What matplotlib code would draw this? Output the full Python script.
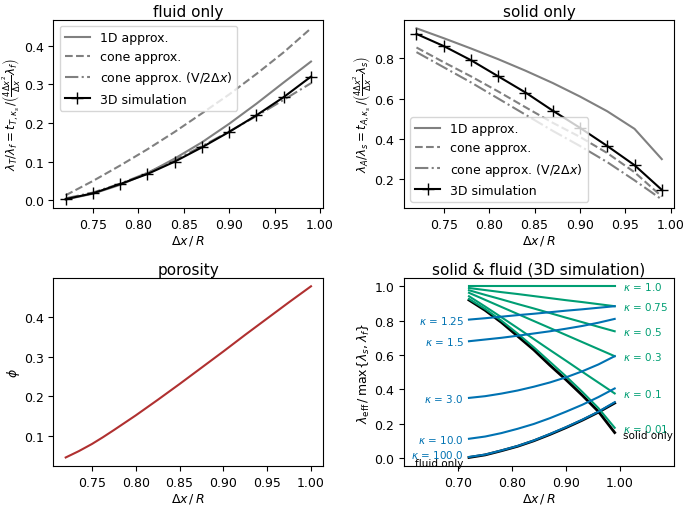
import matplotlib
matplotlib.use("Agg")
import matplotlib.pyplot as plt

# grid spacing ratios (markers of the 3D simulation)
dx = [0.72, 0.75, 0.78, 0.81, 0.84, 0.87, 0.90, 0.93, 0.96, 0.99]

# fluid only
fluid_1d = [0.002, 0.017, 0.040, 0.070, 0.108, 0.150, 0.198, 0.250, 0.305, 0.359]
fluid_cone = [0.013, 0.050, 0.090, 0.132, 0.177, 0.225, 0.274, 0.327, 0.383, 0.445]
fluid_cone_v = [0.005, 0.020, 0.043, 0.071, 0.104, 0.140, 0.178, 0.218, 0.260, 0.303]
fluid_3d = [0.003, 0.018, 0.042, 0.068, 0.100, 0.137, 0.177, 0.220, 0.267, 0.320]

# solid only
solid_1d = [0.948, 0.899, 0.848, 0.795, 0.738, 0.677, 0.610, 0.537, 0.450, 0.300]
solid_cone = [0.853, 0.780, 0.710, 0.635, 0.557, 0.480, 0.410, 0.330, 0.235, 0.115]
solid_cone_v = [0.830, 0.755, 0.680, 0.600, 0.520, 0.440, 0.365, 0.285, 0.195, 0.100]
solid_3d = [0.920, 0.860, 0.790, 0.710, 0.630, 0.540, 0.455, 0.365, 0.270, 0.148]

# porosity
por_x = [0.72, 0.735, 0.75, 0.7625, 0.775, 0.80, 0.825, 0.85, 0.875, 0.90,
         0.925, 0.95, 0.975, 1.00]
por_phi = [0.046, 0.062, 0.080, 0.097, 0.115, 0.152, 0.191, 0.231, 0.272, 0.313,
           0.355, 0.396, 0.437, 0.477]
por_ticks = [0.75, 0.80, 0.85, 0.90, 0.95, 1.00]

# solid & fluid, kappa = lambda_s / lambda_f
kappa_low = ["0.01", "0.1", "0.3", "0.5", "0.75", "1.0"]
eff_low = [
    [0.926, 0.868, 0.800, 0.725, 0.645, 0.560, 0.475, 0.385, 0.290, 0.176],
    [0.942, 0.882, 0.820, 0.757, 0.693, 0.629, 0.566, 0.502, 0.439, 0.376],
    [0.962, 0.921, 0.880, 0.839, 0.798, 0.757, 0.716, 0.675, 0.634, 0.593],
    [0.977, 0.950, 0.924, 0.897, 0.871, 0.844, 0.817, 0.791, 0.764, 0.738],
    [0.990, 0.978, 0.966, 0.955, 0.943, 0.931, 0.919, 0.908, 0.896, 0.884],
    [1.000, 1.000, 1.000, 1.000, 1.000, 1.000, 1.000, 1.000, 1.000, 1.000],
]
kappa_high = ["1.25", "1.5", "3.0", "10.0", "100.0"]
eff_high = [
    [0.806, 0.814, 0.823, 0.832, 0.840, 0.849, 0.858, 0.866, 0.875, 0.884],
    [0.680, 0.690, 0.700, 0.712, 0.725, 0.738, 0.753, 0.769, 0.788, 0.810],
    [0.350, 0.360, 0.375, 0.393, 0.415, 0.440, 0.470, 0.505, 0.545, 0.593],
    [0.112, 0.125, 0.145, 0.170, 0.198, 0.232, 0.270, 0.310, 0.355, 0.405],
    [0.006, 0.020, 0.044, 0.070, 0.102, 0.140, 0.180, 0.223, 0.270, 0.325],
]

green = "#009e73"
blue = "#0072b2"
grey = "#808080"

plt.rcParams["xtick.labelsize"] = 9
plt.rcParams["ytick.labelsize"] = 9
plt.rcParams["axes.labelsize"] = 9
plt.rcParams["axes.titlesize"] = 11
plt.rcParams["axes.titlepad"] = 3
plt.rcParams["axes.labelpad"] = 1.5

fig, axes = plt.subplots(2, 2, figsize=(6.85, 5.06), dpi=100)
plt.subplots_adjust(left=0.078, right=0.984, top=0.959, bottom=0.077,
                    wspace=0.30, hspace=0.37)

# fluid only
ax = axes[0, 0]
ax.plot(dx, fluid_1d, color=grey, label="1D approx.")
ax.plot(dx, fluid_cone, color=grey, ls="--", label="cone approx.")
ax.plot(dx, fluid_cone_v, color=grey, ls="-.", label=r"cone approx. (V/2$\Delta x$)")
ax.plot(dx, fluid_3d, color="k", marker="+", ms=8, label="3D simulation")
ax.set_title("fluid only")
ax.set_xlabel(r"$\Delta x\,/\,R$")
ax.set_ylabel(r"$\lambda_T/\lambda_f = t_{T,\kappa_s}\,/\left(\frac{4\Delta x^2}{\Delta x}\lambda_f\right)$",
              fontsize=8.5, labelpad=1)
ax.legend(loc="upper left", fontsize=9)

# solid only
ax = axes[0, 1]
ax.plot(dx, solid_1d, color=grey, label="1D approx.")
ax.plot(dx, solid_cone, color=grey, ls="--", label="cone approx.")
ax.plot(dx, solid_cone_v, color=grey, ls="-.", label=r"cone approx. (V/2$\Delta x$)")
ax.plot(dx, solid_3d, color="k", marker="+", ms=8, label="3D simulation")
ax.set_title("solid only")
ax.set_xlabel(r"$\Delta x\,/\,R$")
ax.set_ylabel(r"$\lambda_A/\lambda_s = t_{A,\kappa_s}\,/\left(\frac{4\Delta x^2}{\Delta x}\lambda_s\right)$",
              fontsize=8.5, labelpad=1)
ax.legend(loc="lower left", fontsize=9)

# porosity
ax = axes[1, 0]
ax.plot(por_x, por_phi, color="#b03030")
ax.set_xticks(por_ticks)
ax.set_title("porosity")
ax.set_xlabel(r"$\Delta x\,/\,R$")
ax.set_ylabel(r"$\phi$")

# solid & fluid
ax = axes[1, 1]
ax.plot(dx, solid_3d, color="k", lw=2)
ax.plot(dx, fluid_3d, color="k", lw=2)
for k, vals in zip(kappa_low, eff_low):
    ax.plot(dx, vals, color=green)
    ax.text(dx[-1] + 0.015, vals[-1], r"$\kappa$ = " + k, color=green,
            fontsize=7.5, ha="left", va="center")
for k, vals in zip(kappa_high, eff_high):
    ax.plot(dx, vals, color=blue)
    ax.text(dx[0] - 0.01, vals[0] + (0.015 if k == "100.0" else 0), r"$\kappa$ = " + k,
            color=blue, fontsize=7.5, ha="right", va="center")
ax.text(dx[0] - 0.01, fluid_3d[0] - 0.03, "fluid only", color="k",
        fontsize=7.5, ha="right", va="center")
ax.text(dx[-1] + 0.015, solid_3d[-1] - 0.012, "solid only", color="k",
        fontsize=7.5, ha="left", va="center")
ax.set_xlim(0.6, 1.1)
ax.set_xticks([0.7, 0.8, 0.9, 1.0])
ax.set_xticklabels(["0.70", "0.80", "0.90", "1.00"])
ax.set_title("solid & fluid (3D simulation)")
ax.set_xlabel(r"$\Delta x\,/\,R$")
ax.set_ylabel(r"$\lambda_{\rm eff}\,/\,\max\{\lambda_s,\lambda_f\}$")

plt.savefig("out.png")
